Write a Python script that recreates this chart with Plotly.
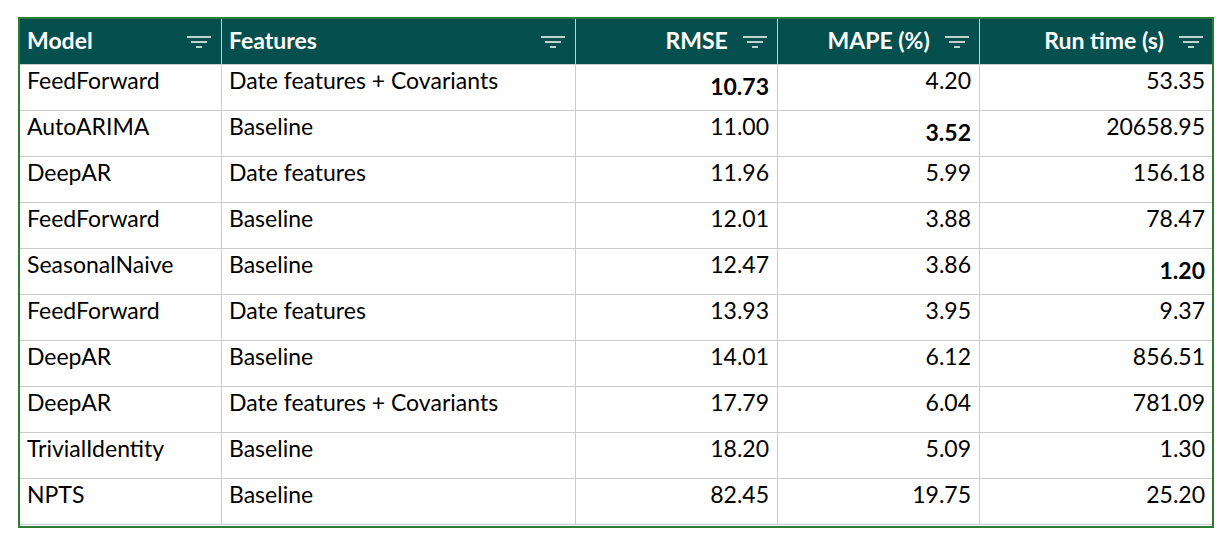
import plotly.graph_objects as go

headers = ["Model", "Features", "RMSE", "MAPE (%)", "Run time (s)"]
models = ["FeedForward", "AutoARIMA", "DeepAR", "FeedForward", "SeasonalNaive",
          "FeedForward", "DeepAR", "DeepAR", "TrivialIdentity", "NPTS"]
features = ["Date features + Covariants", "Baseline", "Date features", "Baseline", "Baseline",
            "Date features", "Baseline", "Date features + Covariants", "Baseline", "Baseline"]
rmse = [10.73, 11.00, 11.96, 12.01, 12.47, 13.93, 14.01, 17.79, 18.20, 82.45]
mape = [4.20, 3.52, 5.99, 3.88, 3.86, 3.95, 6.12, 6.04, 5.09, 19.75]
runtime = [53.35, 20658.95, 156.18, 78.47, 1.20, 9.37, 856.51, 781.09, 1.30, 25.20]


def fmt(vals):
    best = min(vals)
    return [f"<b>{v:.2f}</b>" if v == best else f"{v:.2f}" for v in vals]


W, H = 1232, 546
OFF = 8  # page body margin
x0, x1, y0, y1 = 19 - OFF, 1213 - OFF, 18 - OFF, 527 - OFF
col_w = [202, 354, 202, 202, 234]
pad = "\u00a0" * 7
head = [f"<b>{h}</b>" for h in headers[:2]] + [f"<b>{h}</b>{pad}" for h in headers[2:]]

fig = go.Figure(go.Table(
    domain=dict(x=[x0 / W, x1 / W], y=[1 - y1 / H, 1 - y0 / H]),
    columnwidth=col_w,
    header=dict(values=head, fill_color="#054F4F", line_color="#CCCCCC",
                font=dict(color="white", size=23, family="Lato"),
                align=["left", "left", "right", "right", "right"], height=46),
    cells=dict(values=[models, features, fmt(rmse), fmt(mape), fmt(runtime)],
               fill_color="white", line_color="#CCCCCC",
               font=dict(color="black", size=23, family="Lato"),
               align=["left", "left", "right", "right", "right"], height=46),
))

# filter icons in header
edges = [x0]
for w in col_w:
    edges.append(edges[-1] + w)
shapes = []
for right in edges[1:]:
    cx = right - 22
    for dy, hw in [(-5, 12), (0, 8), (5, 3)]:
        y = 42 - OFF + dy
        shapes.append(dict(type="line", xref="paper", yref="paper",
                           x0=(cx - hw) / W, x1=(cx + hw) / W,
                           y0=1 - y / H, y1=1 - y / H,
                           line=dict(color="white", width=1.5)))
shapes.append(dict(type="rect", xref="paper", yref="paper",
                   x0=x0 / W, x1=x1 / W, y0=1 - y1 / H, y1=1 - y0 / H,
                   line=dict(color="#2E7D32", width=2)))

fig.update_layout(width=W, height=H, margin=dict(l=0, r=0, t=0, b=0),
                  paper_bgcolor="white", shapes=shapes)
fig.write_html("out.html")
